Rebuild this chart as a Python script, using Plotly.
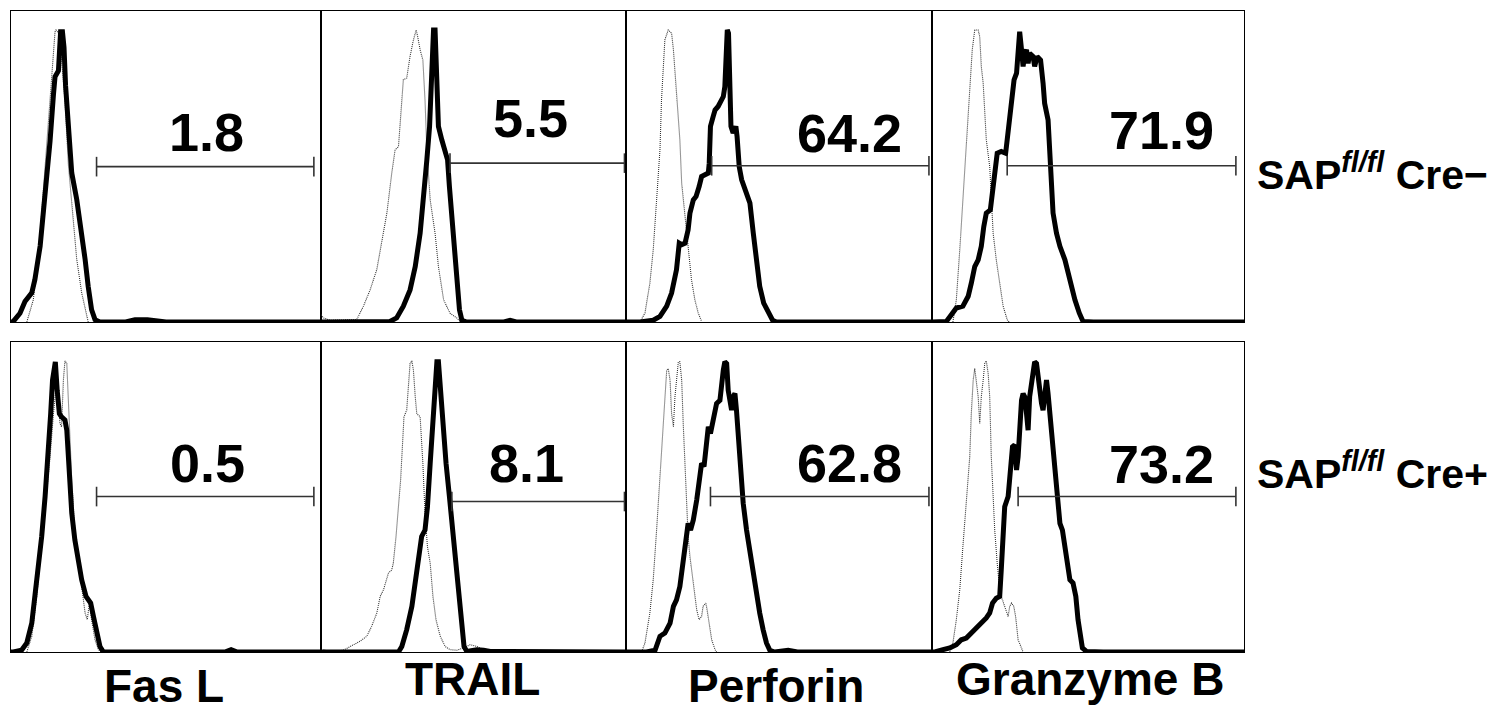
import plotly.graph_objects as go

# ---------------- data (x: % of log-fluorescence range, y: % of max) ----------------
markers = ["Fas L", "TRAIL", "Perforin", "Granzyme B"]
genotypes = ["SAP<sup><i>fl/fl</i></sup> Cre\u2212", "SAP<sup><i>fl/fl</i></sup> Cre+"]
pct_neg = ["1.8", "5.5", "64.2", "71.9"]
pct_pos = ["0.5", "8.1", "62.8", "73.2"]

gate_lo_neg = [27.6, 42.3, 28.0, 24.1]
gate_hi_neg = [97.7, 99.5, 99.0, 97.4]
gate_y_neg = [53.2, 54.4, 53.5, 53.5]
gate_lo_pos = [27.6, 42.9, 27.6, 27.6]
gate_hi_pos = [97.7, 99.5, 99.0, 97.4]
gate_y_pos = [53.4, 51.7, 53.4, 53.4]

# Cre- row
fasl_neg_x = [0, 0.75, 2.9, 4.5, 6.7, 7.7, 9.4, 11, 12.6, 13.7, 14.2, 15.3, 15.6, 16, 16.6, 17.1, 17.6, 18.5, 19.6, 21.2, 22.8, 23.9, 24.9, 26, 27.1, 28.7, 37, 40, 44, 47, 50, 100]
fasl_neg_y = [0, 0.2, 3, 7, 10, 14.5, 26, 42, 62, 78, 84, 86, 93, 99.4, 99.4, 94, 81, 65, 51, 42, 30.6, 21.5, 12.2, 4.2, 0.8, 0, 0, 0.8, 0.8, 0.5, 0, 0]
fasl_neg_ctrl_x = [5.1, 7.2, 9.4, 11.5, 13.1, 14.2, 14.5, 15.3, 16.3, 17.4, 18.5, 19.6, 21.2, 22.8, 24.4, 24.9]
fasl_neg_ctrl_y = [0, 7.6, 30, 59, 84, 99.4, 100, 99, 90, 76, 54, 40, 21.5, 10, 2, 0]

trail_neg_x = [0, 22.6, 24.8, 27, 29.2, 30.9, 32.5, 33.6, 34.7, 35.6, 36, 36.3, 36.5, 36.9, 37.4, 37.7, 38, 38.5, 39.6, 40.7, 41.5, 42.1, 42.9, 43.7, 44.5, 45.4, 46.2, 47.8, 60, 62, 64, 100]
trail_neg_y = [0, 0.2, 1.4, 5.4, 11, 19, 30.4, 41.8, 55.5, 67, 78, 87.5, 96.6, 100, 100, 87.5, 76, 67, 62.4, 59, 55.5, 46.4, 36, 24.7, 13.3, 4.2, 0.6, 0, 0, 0.6, 0, 0]
trail_neg_ctrl_x = [0, 0.8, 3, 11.7, 13.9, 16.1, 18.3, 19.9, 21.6, 23.2, 24.3, 25.4, 26.5, 27, 28.1, 29.2, 30.3, 31.2, 31.7, 32.5, 33.4, 34.1, 34.7, 35.8, 37.4, 38.5, 40.2, 42.3, 44.5, 45.6]
trail_neg_ctrl_y = [2.5, 1.4, 0.6, 0.8, 5.4, 11, 18, 27, 37.3, 51, 59, 60, 76, 83, 83.5, 91, 96.6, 100, 97.7, 93.2, 89.7, 76, 59, 41.8, 30.4, 19, 7.6, 3, 1.4, 0.2]

perf_neg_x = [0, 4.6, 8.9, 11.1, 13.3, 14.9, 16.5, 17.4, 18.2, 19.3, 20.3, 20.9, 22, 22.9, 23.9, 24.7, 25.8, 26.9, 27.2, 27.6, 28.5, 29.1, 30.1, 30.7, 31.8, 32.3, 32.6, 33.1, 33.5, 33.9, 34.3, 35, 35.9, 36.3, 37, 37.8, 38.5, 39.4, 40.5, 41.6, 42.7, 43.7, 45, 46.5, 47.9, 49.2, 100]
perf_neg_y = [0, 0, 0.6, 1.9, 5.4, 9.9, 17.9, 27, 26.5, 27, 31.6, 37.3, 41.8, 43, 46.4, 49.8, 50.4, 51, 54.4, 67, 70.4, 72.6, 73.8, 74.9, 77.2, 80.6, 93.2, 100, 98.9, 81.8, 67, 64.7, 67, 63.5, 53.2, 48.7, 46.4, 43, 40.7, 30.4, 21.3, 12.2, 6.5, 3.1, 0.6, 0, 0]
perf_neg_ctrl_x = [4.6, 6.2, 7.8, 8.9, 10, 11.1, 11.6, 12.2, 12.7, 13.8, 14.9, 15.5, 16.5, 17.6, 18.2, 19.3, 20.3, 21.4, 22.5, 23.6, 24.7]
perf_neg_ctrl_y = [0, 3.1, 13.3, 24.7, 41.8, 59, 76, 87.5, 96.6, 100, 98.9, 93.2, 79.5, 62.4, 47.5, 36.1, 23.6, 14.5, 7.6, 3.1, 0.2]

gzmb_neg_x = [0, 0.9, 4.6, 6.2, 7.8, 9.9, 11.6, 12.6, 13.7, 14.8, 15.8, 16.6, 17.4, 18.7, 19.4, 20.1, 20.9, 22.2, 23.6, 24.1, 24.7, 25.5, 26.3, 27.1, 27.6, 28.1, 28.7, 29.2, 29.7, 30.3, 30.8, 31.3, 32.4, 32.9, 33.7, 34.8, 35.6, 36.1, 37.2, 37.8, 38.3, 38.8, 39.9, 41, 42.6, 43.6, 44.7, 45.8, 47.2, 48.4, 51.7, 100]
gzmb_neg_y = [0, 0, 0.2, 2.5, 4.8, 5.4, 8.8, 13.3, 19, 21.3, 25.9, 32.7, 37.3, 38.4, 45.3, 53.2, 57.8, 58.4, 57.8, 62.4, 68.1, 76.1, 82.9, 85.2, 93.2, 99.4, 93.2, 87.5, 92, 93.2, 88.6, 92, 90.9, 87.5, 90.9, 89.7, 81.8, 74.9, 69.2, 55.5, 44.1, 37.3, 30.4, 25.9, 21.3, 16.8, 11.1, 7.6, 3.1, 0.2, 0, 0]
gzmb_neg_ctrl_x = [6.7, 7.8, 8.9, 9.9, 11, 12.1, 12.9, 13.7, 14.8, 15.3, 15.8, 16.4, 16.9, 17.4, 18.5, 19, 19.6, 20.6, 21.7, 22.8, 24.1, 24.7]
gzmb_neg_ctrl_y = [0, 7.6, 24.7, 41.8, 59, 76, 93.2, 100, 100, 97.7, 87.5, 81.8, 72.6, 62.4, 53.2, 44.1, 30.4, 21.3, 13.3, 5.4, 0.8, 0]

# Cre+ row
fasl_pos_x = [0, 0.75, 3.4, 5.1, 6.7, 7.7, 8.8, 9.9, 11, 12, 12.8, 13.4, 13.9, 14.3, 14.9, 15.6, 16.3, 17.4, 18, 18.7, 19.6, 20.6, 21.7, 22.8, 24.2, 25.7, 26.6, 27.6, 28.7, 29.8, 69, 71, 73, 100]
fasl_pos_y = [0, 0, 0.6, 3.1, 9.9, 19.1, 28.2, 39.7, 53.4, 67.1, 81.9, 93.4, 99.7, 99.7, 89.9, 81.9, 80.8, 79.7, 76.2, 64.8, 47.7, 38.5, 30.5, 24.8, 19.1, 16.8, 12.2, 6.5, 1.9, 0, 0, 0.8, 0, 0]
fasl_pos_ctrl_x = [5.1, 6.7, 8.3, 9.9, 11.5, 12.6, 13.7, 14.7, 15.8, 16.3, 16.9, 17.4, 18, 18.5, 19, 19.6, 20.6, 21.7, 22.8, 23.9, 24.6, 25.3, 26, 27.1, 28.2, 29.2]
fasl_pos_ctrl_y = [0, 5.4, 19.1, 36.2, 55.7, 67.1, 81.9, 93.4, 78.5, 77.4, 93.4, 100, 99.1, 87.7, 76.2, 59.1, 41.9, 30.5, 22.5, 13.4, 11.1, 16.8, 11.1, 4.2, 0.8, 0]

trail_pos_x = [0, 25.4, 26.5, 28.1, 29.8, 31.4, 33, 34.1, 34.9, 35.8, 36.7, 37.4, 38, 38.5, 39.1, 39.9, 41, 42.1, 42.9, 44, 45.1, 46.2, 46.9, 47.8, 51.1, 53.3, 55.5, 100]
trail_pos_y = [0, 0, 1.9, 7.7, 15.7, 27.1, 39.7, 41.9, 49.9, 64.8, 78.5, 91.1, 99.7, 99.7, 91.1, 78.5, 64.8, 53.4, 44.2, 30.5, 19.1, 7.7, 1.9, 0.2, 0.8, 0.6, 0.2, 0]
trail_pos_ctrl_x = [0.8, 3, 7.3, 10.6, 12.8, 15, 16.6, 18.3, 19.4, 20.5, 22.1, 23.2, 23.7, 24.6, 25.4, 26.1, 26.8, 27.2, 28.1, 28.7, 29.2, 29.8, 30.3, 30.9, 31.4, 32.5, 33.4, 34.1, 34.9, 35.8, 36.7, 37.7, 39.1, 40.7, 42.3, 44.5, 46.7, 48.9, 51.1, 53.3, 57.7]
trail_pos_ctrl_y = [0.8, 0.2, 0.6, 2.5, 3.7, 5.4, 8.8, 13.4, 19.1, 21.4, 27.1, 28.2, 30.5, 39.7, 49.9, 59.1, 72.8, 80.8, 83.1, 93.4, 99.1, 100, 96.8, 87.7, 81.9, 80.8, 64.8, 47.7, 36.2, 30.5, 19.1, 11.1, 5.4, 1.9, 0.8, 0.6, 1.4, 2.5, 1.9, 0.8, 0.2]

perf_pos_x = [0, 6.7, 9.5, 11.1, 12.7, 14.4, 15.5, 16.5, 17.6, 18.7, 19.6, 20.3, 21.1, 22, 23.1, 24.2, 24.7, 25.5, 26.1, 26.9, 27.6, 28.3, 29.1, 29.6, 30.7, 31.2, 31.8, 32.3, 32.9, 33.4, 33.9, 34.5, 35, 35.6, 36.1, 36.7, 37.4, 38.3, 39.4, 40.5, 41.6, 42.7, 43.7, 44.8, 45.9, 47, 48.6, 53, 56, 100]
perf_pos_y = [0, 0, 0.6, 5.4, 6.5, 9.9, 15.7, 17.9, 22.5, 30.5, 39.7, 44.2, 41.9, 45.4, 52.2, 61.4, 64.8, 63.7, 70.5, 77.4, 75.1, 78.5, 81.9, 85.4, 86.5, 93.4, 96.8, 99.7, 99.1, 89.9, 85.4, 83.1, 87.7, 88.8, 83.1, 72.8, 60.2, 51.1, 41.9, 33.9, 27.1, 20.2, 13.4, 7.7, 3.1, 0.6, 0, 0.6, 0, 0]
perf_pos_ctrl_x = [5.1, 6.2, 7.8, 8.9, 10, 11.1, 12, 12.7, 13.3, 13.8, 14.4, 14.9, 15.5, 16, 16.5, 17.1, 17.6, 18.2, 18.7, 19.3, 19.8, 20.3, 20.9, 22, 23.1, 23.9, 24.7, 25.2, 26.1, 26.5, 27.2, 28, 29.1, 29.6]
perf_pos_ctrl_y = [0, 3.1, 13.4, 24.8, 41.9, 59.1, 76.2, 87.7, 96.8, 97.4, 93.4, 81.9, 77.4, 87.7, 93.4, 99.7, 99.7, 93.4, 78.5, 64.8, 51.1, 39.7, 32.8, 23.7, 14.5, 11.1, 12.2, 15.7, 16.8, 14.5, 9.9, 4.2, 0.8, 0]

gzmb_pos_x = [0, 0.9, 3.5, 5.7, 7.8, 9.4, 11, 12.6, 14.2, 15.8, 17.4, 18.5, 19.4, 20.6, 21.7, 22.2, 22.8, 23.3, 24.4, 25.1, 25.8, 26.5, 27.1, 27.6, 28.1, 28.7, 29.2, 29.7, 30.3, 30.8, 31.3, 31.9, 32.4, 32.9, 33.5, 34, 34.5, 35.1, 35.6, 36.1, 36.7, 37.2, 37.8, 38.6, 39.4, 40.1, 41, 41.8, 42.6, 43.1, 44.2, 45.2, 46.1, 46.8, 47.4, 48.2, 49.5, 54.9, 100]
gzmb_pos_y = [0, 0, 0.8, 1.4, 2.5, 4.2, 4.8, 6.5, 8.8, 10.5, 11.7, 13.4, 16.8, 18.5, 19.1, 28.2, 39.7, 49.9, 53.4, 60.2, 70.5, 71.1, 62.5, 67.1, 80.8, 86.5, 88.8, 87.7, 81.9, 76.2, 87.7, 92.2, 96.8, 99.7, 99.1, 93.4, 87.7, 85.4, 83.1, 87.7, 93.4, 88.8, 81.9, 72.8, 62.5, 53.4, 44.2, 41.9, 36.2, 30.5, 24.8, 23.7, 19.1, 11.1, 5.4, 1.4, 0.2, 0, 0]
gzmb_pos_ctrl_x = [5.7, 6.7, 7.8, 8.9, 9.9, 11, 12.1, 12.6, 13.2, 13.7, 14.2, 14.8, 15.3, 15.8, 16.4, 16.9, 17.4, 18, 18.5, 19, 19.6, 20.1, 20.9, 21.5, 22.2, 23, 23.6, 24.4, 24.9, 25.5, 26.2, 26.8, 27.6, 28.7, 29.2]
gzmb_pos_ctrl_y = [0, 3.1, 11.1, 21.4, 36.2, 53.4, 67.1, 81.9, 93.4, 97.4, 93.4, 87.7, 78.5, 87.7, 93.4, 99.1, 100, 95.7, 87.7, 67.1, 53.4, 41.9, 30.5, 23.7, 19.1, 16.8, 14.5, 12.2, 15.7, 16.8, 15.7, 12.2, 4.2, 0.8, 0]

# ---------------- assembly ----------------
stained = [
    (fasl_neg_x, fasl_neg_y), (trail_neg_x, trail_neg_y), (perf_neg_x, perf_neg_y), (gzmb_neg_x, gzmb_neg_y),
    (fasl_pos_x, fasl_pos_y), (trail_pos_x, trail_pos_y), (perf_pos_x, perf_pos_y), (gzmb_pos_x, gzmb_pos_y),
]
controls = [
    (fasl_neg_ctrl_x, fasl_neg_ctrl_y), (trail_neg_ctrl_x, trail_neg_ctrl_y), (perf_neg_ctrl_x, perf_neg_ctrl_y), (gzmb_neg_ctrl_x, gzmb_neg_ctrl_y),
    (fasl_pos_ctrl_x, fasl_pos_ctrl_y), (trail_pos_ctrl_x, trail_pos_ctrl_y), (perf_pos_ctrl_x, perf_pos_ctrl_y), (gzmb_pos_ctrl_x, gzmb_pos_ctrl_y),
]
gate_lo = gate_lo_neg + gate_lo_pos
gate_hi = gate_hi_neg + gate_hi_pos
gate_y = gate_y_neg + gate_y_pos
pct = pct_neg + pct_pos

# layout styling (pixel geometry of the page)
W, H = 1496, 714
col_px = [11, 321, 626, 932, 1244]
row_px = [(11, 322), (342, 652)]
label_pos = [(63.1, 65.2), (68.6, 69.8), (73.1, 64.7), (73.6, 65.8),
             (63.3, 64.8), (67.5, 64.8), (73.2, 64.8), (73.6, 64.6)]
FONT = "Liberation Sans, Arial, Helvetica, sans-serif"

fig = go.Figure()
layout = dict(width=W, height=H, margin=dict(l=0, r=0, t=0, b=0), autosize=False,
              paper_bgcolor="white", plot_bgcolor="white", showlegend=False)
annotations = []

for i in range(8):
    r, c = divmod(i, 4)
    n = "" if i == 0 else str(i + 1)
    xa, ya = "x" + n, "y" + n
    axstyle = dict(showgrid=False, zeroline=False, showticklabels=False, ticks="",
                   showline=True, linecolor="black", linewidth=1, mirror=True, fixedrange=True)
    layout["xaxis" + n] = dict(domain=[col_px[c] / W, col_px[c + 1] / W], range=[0, 100],
                               anchor=ya, **axstyle)
    layout["yaxis" + n] = dict(domain=[1 - row_px[r][1] / H, 1 - row_px[r][0] / H], range=[0, 106.5],
                               anchor=xa, **axstyle)
    cx, cy = controls[i]
    fig.add_trace(go.Scatter(x=cx, y=cy, mode="lines", xaxis=xa, yaxis=ya,
                             line=dict(color="#333333", width=1.1, dash="1px,1px"), hoverinfo="skip"))
    sx, sy = stained[i]
    fig.add_trace(go.Scatter(x=sx, y=sy, mode="lines", xaxis=xa, yaxis=ya,
                             line=dict(color="black", width=5), hoverinfo="skip"))
    fig.add_trace(go.Scatter(x=[gate_lo[i], gate_hi[i]], y=[gate_y[i], gate_y[i]], mode="lines+markers",
                             xaxis=xa, yaxis=ya, line=dict(color="#333333", width=1.6),
                             marker=dict(symbol="line-ns", size=14, line=dict(color="#333333", width=1.6)),
                             hoverinfo="skip", cliponaxis=False))
    lx, ly = label_pos[i]
    annotations.append(dict(x=lx, y=ly, xref=xa, yref=ya, text="<b>%s</b>" % pct[i], showarrow=False,
                            xanchor="center", yanchor="middle",
                            font=dict(family=FONT, size=54, color="black")))

col_label_px = [(163.5, 686), (472, 679), (776, 686), (1090, 679)]
for (px, py), m in zip(col_label_px, markers):
    annotations.append(dict(x=px / W, y=1 - py / H, xref="paper", yref="paper", text="<b>%s</b>" % m,
                            showarrow=False, xanchor="center", yanchor="middle",
                            font=dict(family=FONT, size=46, color="black")))

row_label_py = [172, 471]
for py, g in zip(row_label_py, genotypes):
    annotations.append(dict(x=1255 / W, y=1 - py / H, xref="paper", yref="paper", text="<b>%s</b>" % g,
                            showarrow=False, xanchor="left", yanchor="middle",
                            font=dict(family=FONT, size=41, color="black")))

layout["annotations"] = annotations
fig.update_layout(**layout)
fig.write_html("out.html", config={"displayModeBar": False},
               post_script="document.body.style.margin='0px';document.body.style.overflow='hidden';")
